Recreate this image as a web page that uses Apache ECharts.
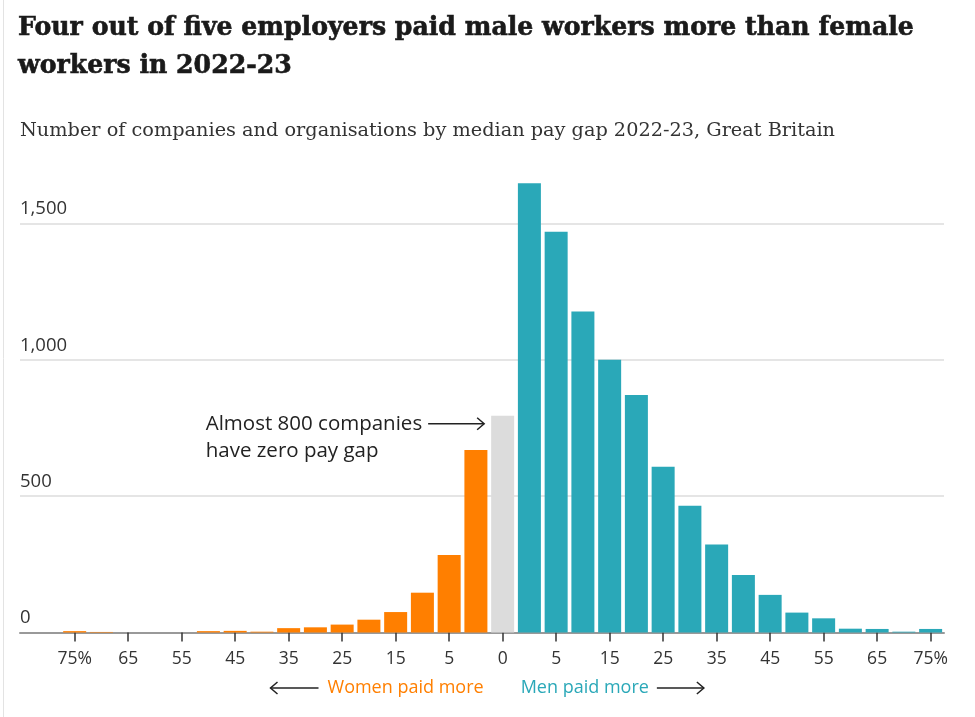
<!DOCTYPE html>
<html><head><meta charset="utf-8">
<script src="https://cdn.jsdelivr.net/npm/echarts@6/dist/echarts.min.js"></script>
<style>html,body{margin:0;padding:0;background:#fff}#c{width:975px;height:717px}</style>
</head><body><div id="c"></div>
<script>
// Bins of median pay gap (%), women-paid-more side on the left
const categories = ['-75','-70','-65','-60','-55','-50','-45','-40','-35','-30','-25','-20','-15','-10','-5','-0+','0','0+','5','10','15','20','25','30','35','40','45','50','55','60','65','70','75'];
const tickLabels = ['75%','65','55','45','35','25','15','5','0','5','15','25','35','45','55','65','75%'];
const womenPaidMore = [5,2,0,0,0,5,6,3,16,19,29,47,75,146,284,669];
const zeroGap = [795];
const menPaidMore = [1648,1470,1177,1000,871,608,465,323,211,138,73,52,14,13,3,13];
const yTicks = [0,500,1000,1500];

const ORANGE = '#ff7f00', TEAL = '#2aa8b8', GREY = '#dcdcdc', TXT = '#333333';
const SANS = '"Open Sans", "Noto Sans", sans-serif';

const barData = []
  .concat(womenPaidMore.map(v => ({value: v, itemStyle: {color: ORANGE}})))
  .concat(zeroGap.map(v => ({value: v, itemStyle: {color: GREY}})))
  .concat(menPaidMore.map(v => ({value: v, itemStyle: {color: TEAL}})));

const chart = echarts.init(document.getElementById('c'), null, {renderer: 'canvas'});
const YMAX = 1700;
const gridTop = 169, gridBottom = 84.5;

chart.setOption({
  animation: false,
  backgroundColor: '#fff',
  title: [
    {text: 'Four out of five employers paid male workers more than female\nworkers in 2022-23', left: 18, top: 9, padding: 0,
     textStyle: {fontFamily: '"DejaVu Serif", serif', fontWeight: 'bold', fontSize: 25.2, lineHeight: 38, color: '#1a1a1a',
       textBorderColor: '#1a1a1a', textBorderWidth: 0.6}},
    {text: 'Number of companies and organisations by median pay gap 2022-23, Great Britain', left: 20, top: 119, padding: 0,
     textStyle: {fontFamily: '"DejaVu Serif", serif', fontWeight: 'normal', fontSize: 19.3, lineHeight: 24, color: TXT}}
  ],
  grid: [
    {left: 20, right: 31, top: gridTop, bottom: gridBottom},
    {left: 61.3, right: 31, top: gridTop, bottom: gridBottom}
  ],
  xAxis: [
    {gridIndex: 0, type: 'value', min: 0, max: 1, axisLine: {show: true, lineStyle: {color: '#999', width: 2}},
     axisTick: {show: false}, axisLabel: {show: false}, splitLine: {show: false}},
    {gridIndex: 1, type: 'category', data: categories, axisLine: {show: false},
     axisTick: {show: true, alignWithLabel: true, interval: 1, length: 9, lineStyle: {color: '#333', width: 1.5}},
     axisLabel: {interval: 1, margin: 18, fontSize: 17.5, color: TXT, fontFamily: SANS,
       formatter: (v, i) => tickLabels[i / 2] || ''}}
  ],
  yAxis: [
    {gridIndex: 0, type: 'value', min: 0, max: YMAX, interval: 500,
     axisLine: {show: false}, axisTick: {show: false},
     axisLabel: {inside: true, margin: 0, fontSize: 18.5, color: TXT, fontFamily: SANS, verticalAlign: 'bottom', padding: [0,0,5,0],
       formatter: v => yTicks.indexOf(v) >= 0 ? v.toLocaleString('en-GB') : ''},
     splitLine: {show: true, lineStyle: {color: [GREY, GREY, GREY, GREY, 'rgba(0,0,0,0)'], width: 1.5}}},
    {gridIndex: 1, type: 'value', min: 0, max: YMAX, show: false, splitLine: {show: false}}
  ],
  series: [
    {type: 'bar', xAxisIndex: 1, yAxisIndex: 1, data: barData, barCategoryGap: '14%', z: 3}
  ]
});

// Annotations positioned from the chart's own scales
const ctx = document.createElement('canvas').getContext('2d');
function textW(str, size, weight) { ctx.font = (weight || 'normal') + ' ' + size + 'px ' + SANS; return ctx.measureText(str).width; }
function arrow(xFrom, y, xTo) {
  const d = xTo > xFrom ? 1 : -1;
  return [
    {type: 'line', shape: {x1: xFrom, y1: y, x2: xTo, y2: y}, style: {stroke: '#222', lineWidth: 1.5}, z: 10},
    {type: 'polyline', shape: {points: [[xTo - d * 7, y - 6], [xTo, y], [xTo - d * 7, y + 6]]}, style: {stroke: '#222', lineWidth: 1.5, fill: null}, z: 10}
  ];
}
const zeroIdx = womenPaidMore.length;
const top0 = chart.convertToPixel({seriesIndex: 0}, [zeroIdx, zeroGap[0]]);
const base0 = chart.convertToPixel({seriesIndex: 0}, [zeroIdx, 0]);
const step = chart.convertToPixel({seriesIndex: 0}, [zeroIdx + 1, 0])[0] - base0[0];
const barW = step * 0.86;
const cx = top0[0];

const ANN_SIZE = 20.5, ANN_LH = 27;
const annEnd = cx - barW / 2 - 7;
const annStart = annEnd - 56;
const annY = top0[1] + 8;
const annW = textW('Almost 800 companies', ANN_SIZE);
const annX = annStart - 6 - annW;

const labY = 688;
const LAB_SIZE = 18;
const wW = textW('Women paid more', LAB_SIZE);
const mW = textW('Men paid more', LAB_SIZE);
const wRight = cx - 19, wLeft = wRight - wW;
const mLeft = cx + 18, mRight = mLeft + mW;

const graphics = [
  {type: 'line', shape: {x1: 3.5, y1: 0, x2: 3.5, y2: 717}, style: {stroke: '#e3e3e3', lineWidth: 1}},
  {type: 'text', x: annX, y: annY - ANN_LH / 2, style: {text: 'Almost 800 companies\nhave zero pay gap', font: ANN_SIZE + 'px ' + SANS, fill: '#222', lineHeight: ANN_LH, verticalAlign: 'top', align: 'left'}, z: 10},
  {type: 'text', x: wRight, y: labY, style: {text: 'Women paid more', font: LAB_SIZE + 'px ' + SANS, fill: ORANGE, align: 'right', verticalAlign: 'middle'}, z: 10},
  {type: 'text', x: mLeft, y: labY, style: {text: 'Men paid more', font: LAB_SIZE + 'px ' + SANS, fill: TEAL, align: 'left', verticalAlign: 'middle'}, z: 10}
].concat(arrow(annStart, annY, annEnd))
 .concat(arrow(wLeft - 9, labY, wLeft - 57))
 .concat(arrow(mRight + 8, labY, mRight + 55));

chart.setOption({graphic: graphics});
</script>
</body></html>
